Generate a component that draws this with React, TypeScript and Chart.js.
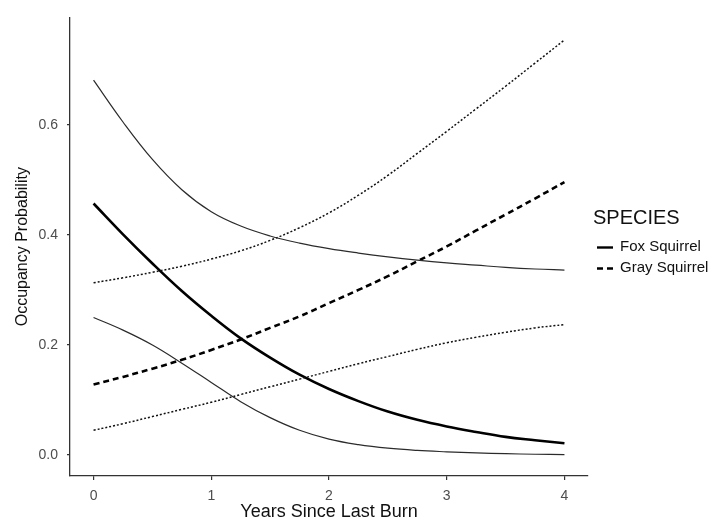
import React, { useEffect, useRef } from "react";
import { Chart, registerables } from "chart.js";

Chart.register(...registerables);

// ---- Data ----
const yearsSinceBurn = [0, 0.25, 0.5, 0.75, 1, 1.25, 1.5, 1.75, 2, 2.25, 2.5, 2.75, 3, 3.25, 3.5, 3.75, 4];

const foxMean = [0.457, 0.401, 0.348, 0.298, 0.253, 0.212, 0.177, 0.146, 0.12, 0.098, 0.079, 0.064, 0.052, 0.042, 0.033, 0.027, 0.0215];
const foxUpper = [0.681, 0.605, 0.537, 0.482, 0.442, 0.416, 0.398, 0.385, 0.375, 0.367, 0.36, 0.354, 0.349, 0.345, 0.341, 0.338, 0.336];
const foxLower = [0.25, 0.227, 0.2, 0.167, 0.132, 0.097, 0.068, 0.045, 0.029, 0.019, 0.0125, 0.0085, 0.006, 0.004, 0.0025, 0.0015, 0.001];

const grayMean = [0.128, 0.142, 0.157, 0.173, 0.191, 0.21, 0.231, 0.252, 0.276, 0.3, 0.325, 0.352, 0.379, 0.408, 0.437, 0.466, 0.496];
const grayUpper = [0.313, 0.322, 0.332, 0.343, 0.356, 0.371, 0.39, 0.413, 0.44, 0.472, 0.508, 0.548, 0.588, 0.629, 0.67, 0.712, 0.754];
const grayLower = [0.045, 0.057, 0.07, 0.083, 0.096, 0.11, 0.124, 0.138, 0.152, 0.166, 0.179, 0.192, 0.204, 0.214, 0.223, 0.231, 0.237];

const xTickValues = [0, 1, 2, 3, 4];
const yTickValues = [0, 0.2, 0.4, 0.6];

const legendTitle = "SPECIES";
const legendSpecies = ["Fox Squirrel", "Gray Squirrel"];

const xTitle = "Years Since Last Burn";
const yTitle = "Occupancy Probability";

const FONT = "'Liberation Sans', Arial, Helvetica, sans-serif";

function pts(ys: number[]) {
  return yearsSinceBurn.map((x, i) => ({ x, y: ys[i] }));
}

const legendPlugin = {
  id: "speciesLegend",
  afterDraw(chart: any) {
    const ctx = chart.ctx as CanvasRenderingContext2D;
    ctx.save();
    ctx.fillStyle = "#111";
    ctx.textBaseline = "middle";
    ctx.textAlign = "left";
    ctx.font = `20px ${FONT}`;
    ctx.fillText(legendTitle, 593, 218);

    const rows = [
      { y: 247.5, dash: [] as number[] },
      { y: 268.5, dash: [6, 4] },
    ];
    rows.forEach((r, i) => {
      ctx.beginPath();
      ctx.setLineDash(r.dash);
      ctx.lineWidth = 2.4;
      ctx.strokeStyle = "#000";
      ctx.moveTo(597, r.y);
      ctx.lineTo(613, r.y);
      ctx.stroke();
      ctx.setLineDash([]);
      ctx.font = `15px ${FONT}`;
      ctx.fillStyle = "#111";
      ctx.fillText(legendSpecies[i], 620, r.y - 0.5);
    });
    ctx.restore();
  },
};

export default function App() {
  const canvasRef = useRef<HTMLCanvasElement | null>(null);

  useEffect(() => {
    if (!canvasRef.current) return;
    const common = { pointRadius: 0, pointHoverRadius: 0, tension: 0.4, fill: false };
    const chart = new Chart(canvasRef.current, {
      type: "line",
      data: {
        datasets: [
          { label: "Fox Squirrel upper", data: pts(foxUpper), borderColor: "#2b2b2b", borderWidth: 1.2, ...common },
          { label: "Fox Squirrel lower", data: pts(foxLower), borderColor: "#2b2b2b", borderWidth: 1.2, ...common },
          { label: "Gray Squirrel upper", data: pts(grayUpper), borderColor: "#111", borderWidth: 1.5, borderDash: [2, 2], ...common },
          { label: "Gray Squirrel lower", data: pts(grayLower), borderColor: "#111", borderWidth: 1.5, borderDash: [2, 2], ...common },
          { label: "Gray Squirrel", data: pts(grayMean), borderColor: "#000", borderWidth: 2.6, borderDash: [6, 4], ...common },
          { label: "Fox Squirrel", data: pts(foxMean), borderColor: "#000", borderWidth: 2.6, ...common },
        ],
      },
      options: {
        animation: false,
        responsive: false,
        devicePixelRatio: 1,
        layout: { padding: { left: 0, right: 138, top: 10, bottom: 0 } },
        plugins: { legend: { display: false }, tooltip: { enabled: false } },
        scales: {
          x: {
            type: "linear",
            min: -0.2,
            max: 4.2,
            afterBuildTicks: (s: any) => {
              s.ticks = xTickValues.map((v) => ({ value: v }));
            },
            afterFit: (s: any) => {
              s.height = 49;
            },
            grid: { display: true, drawOnChartArea: false, drawTicks: true, tickLength: 4, color: "#333", lineWidth: 1.2 },
            border: { display: true, color: "#333", width: 1.3 },
            ticks: {
              color: "#4d4d4d",
              font: { family: FONT, size: 14 },
              padding: 8,
              maxRotation: 0,
              callback: (v: any) => String(v),
            },
            title: {
              display: true,
              text: xTitle,
              color: "#111",
              font: { family: FONT, size: 18 },
              padding: { top: 0, bottom: 2 },
            },
          },
          y: {
            type: "linear",
            min: -0.038,
            max: 0.795,
            afterBuildTicks: (s: any) => {
              s.ticks = yTickValues.map((v) => ({ value: v }));
            },
            afterFit: (s: any) => {
              s.width = 70;
            },
            grid: { display: true, drawOnChartArea: false, drawTicks: true, tickLength: 3, color: "#333", lineWidth: 1.2 },
            border: { display: true, color: "#333", width: 1.3 },
            ticks: {
              color: "#4d4d4d",
              font: { family: FONT, size: 14 },
              padding: 9,
              callback: (v: any) => Number(v).toFixed(1),
            },
            title: {
              display: true,
              text: yTitle,
              color: "#111",
              font: { family: FONT, size: 16 },
              padding: { top: 13, bottom: 0 },
            },
          },
        },
      },
      plugins: [legendPlugin],
    });
    return () => chart.destroy();
  }, []);

  return (
    <div style={{ position: "fixed", left: 0, top: 0, width: 726, height: 525, background: "#fff" }}>
      <canvas ref={canvasRef} width={726} height={525} style={{ width: 726, height: 525, display: "block" }} />
    </div>
  );
}
